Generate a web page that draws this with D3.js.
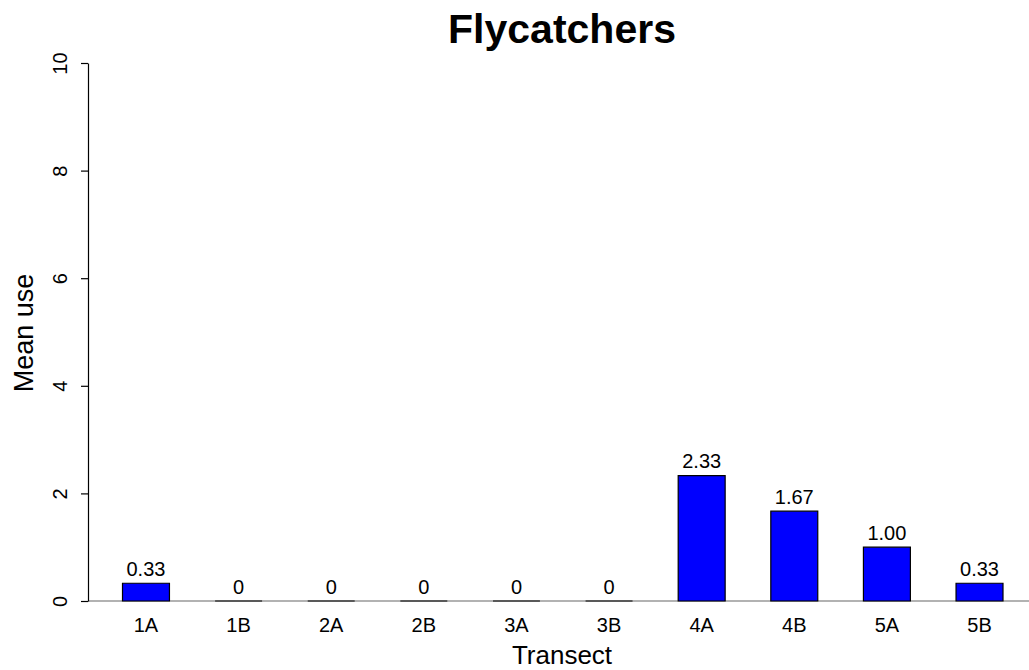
<!DOCTYPE html>
<html>
<head>
<meta charset="utf-8">
<script src="https://cdn.jsdelivr.net/npm/d3@7"></script>
<style>
  html, body { margin: 0; padding: 0; background: #fff; }
  svg { display: block; font-family: "Liberation Sans", Arial, Helvetica, sans-serif; }
</style>
</head>
<body>
<svg id="chart" width="1029" height="670"></svg>
<script>
const categories = ["1A", "1B", "2A", "2B", "3A", "3B", "4A", "4B", "5A", "5B"];
const meanUse = [0.33, 0, 0, 0, 0, 0, 2.33, 1.67, 1.00, 0.33];
const yTicks = [0, 2, 4, 6, 8, 10];
const titleText = "Flycatchers";
const xLabel = "Transect";
const yLabel = "Mean use";

const svg = d3.select("#chart");

const x = d3.scaleBand()
  .domain(categories)
  .range([122.5, 1003])
  .paddingInner(0.493)
  .paddingOuter(0);

const y = d3.scaleLinear().domain([0, 10]).range([601, 63]);

// baseline
svg.append("line")
  .attr("x1", 88).attr("x2", 1029)
  .attr("y1", y(0)).attr("y2", y(0))
  .attr("stroke", "#666").attr("stroke-width", 1.2);

// bars (paths so zero-height bars still draw their outline)
svg.append("g").selectAll("path")
  .data(categories)
  .join("path")
  .attr("d", (c, i) => {
    const x0 = x(c), x1 = x(c) + x.bandwidth();
    const y0 = y(0), y1 = y(meanUse[i]);
    return `M${x0},${y0}H${x1}V${y1}H${x0}Z`;
  })
  .attr("fill", "#0000ff")
  .attr("stroke", "#000")
  .attr("stroke-width", 1.2);

// value labels
svg.append("g").selectAll("text")
  .data(categories)
  .join("text")
  .attr("x", c => x(c) + x.bandwidth() / 2)
  .attr("y", (c, i) => y(meanUse[i]) - 7.5)
  .attr("text-anchor", "middle")
  .attr("font-size", 20)
  .attr("fill", "#000")
  .text((c, i) => meanUse[i] === 0 ? "0" : meanUse[i].toFixed(2));

// x category labels
svg.append("g").selectAll("text")
  .data(categories)
  .join("text")
  .attr("x", c => x(c) + x.bandwidth() / 2)
  .attr("y", 632)
  .attr("text-anchor", "middle")
  .attr("font-size", 20)
  .attr("fill", "#000")
  .text(c => c);

// y axis
const yAxis = svg.append("g")
  .attr("transform", "translate(88,0)")
  .call(d3.axisLeft(y).tickValues(yTicks).tickSize(7).tickSizeOuter(0).tickFormat(d3.format("d")));
yAxis.select(".domain").attr("stroke", "#000").attr("stroke-width", 1.2);
yAxis.selectAll(".tick line").attr("stroke", "#000").attr("stroke-width", 1.2);
yAxis.selectAll(".tick text")
  .attr("x", null).attr("dy", null)
  .attr("font-size", 20)
  .attr("font-family", "Liberation Sans, Arial, sans-serif")
  .attr("fill", "#000")
  .attr("text-anchor", "middle")
  .attr("transform", "translate(-21,0) rotate(-90)");

// title
svg.append("text")
  .attr("x", 562).attr("y", 43)
  .attr("text-anchor", "middle")
  .attr("font-size", 41)
  .attr("font-weight", "bold")
  .attr("fill", "#000")
  .text(titleText);

// x axis title
svg.append("text")
  .attr("x", 562).attr("y", 664)
  .attr("text-anchor", "middle")
  .attr("font-size", 26)
  .attr("fill", "#000")
  .text(xLabel);

// y axis title
svg.append("text")
  .attr("transform", "translate(33,333) rotate(-90)")
  .attr("text-anchor", "middle")
  .attr("font-size", 27)
  .attr("fill", "#000")
  .text(yLabel);
</script>
</body>
</html>
